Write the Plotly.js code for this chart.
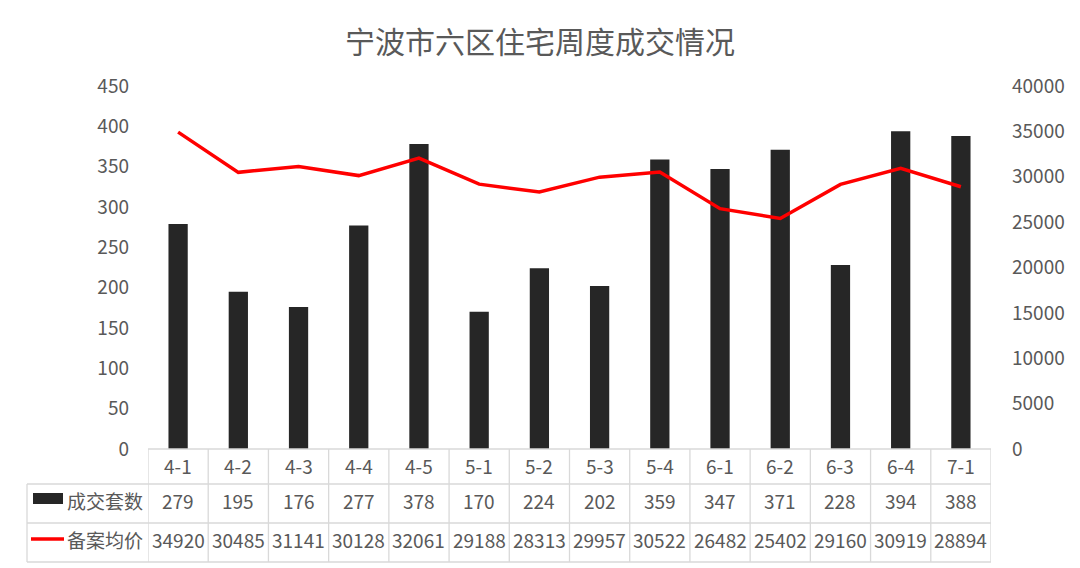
<!DOCTYPE html>
<html>
<head>
<meta charset="utf-8">
<script src="https://cdn.plot.ly/plotly-3.0.1.min.js"></script>
<style>
  html, body { margin: 0; padding: 0; background: #ffffff; }
  #plot { width: 1080px; height: 568px; }
</style>
</head>
<body>
<div id="plot"></div>
<script>
// chart data
//
const weeks = ['4-1', '4-2', '4-3', '4-4', '4-5', '5-1', '5-2', '5-3', '5-4',
               '6-1', '6-2', '6-3', '6-4', '7-1'];
const deals = [279, 195, 176, 277, 378, 170, 224, 202, 359, 347, 371, 228, 394, 388];
const avgPrice = [34920, 30485, 31141, 30128, 32061, 29188, 28313, 29957, 30522,
                  26482, 25402, 29160, 30919, 28894];
const dealsName = '成交套数';
const priceName = '备案均价';

const FONT = '"Noto Sans CJK SC", "Noto Sans", sans-serif';
const TXT = '#595959';
const GRID = '#d9d9d9';
const FS = 19;

// plot area geometry (pixels) used to place the table underneath
//
const M = { l: 148, r: 89, t: 86, b: 119 };
const plotH = 568 - M.t - M.b;
const plotW = 1080 - M.l - M.r;
const py = px => -px / plotH;          // pixels below plot bottom -> paper y
const leftX = (27 - M.l) / plotW;       // left edge of table legend column

const traces = [
  {
    type: 'bar',
    x: weeks,
    y: deals,
    name: dealsName,
    marker: { color: '#262626' },
    width: 0.32,
    hoverinfo: 'none'
  },
  {
    type: 'scatter',
    mode: 'lines',
    x: weeks,
    y: avgPrice,
    name: priceName,
    yaxis: 'y2',
    line: { color: '#ff0000', width: 3.5 },
    hoverinfo: 'none'
  }
];

// data table: text cells and grid lines
//
const annotations = [];
const shapes = [];
const rowShift = [-16, -51, -90];

weeks.forEach((w, i) => {
  annotations.push({ x: w, y: 0, xref: 'x', yref: 'paper', text: w, showarrow: false,
    yanchor: 'middle', yshift: rowShift[0], font: { family: FONT, size: FS, color: TXT } });
  annotations.push({ x: w, y: 0, xref: 'x', yref: 'paper', text: String(deals[i]), showarrow: false,
    yanchor: 'middle', yshift: rowShift[1], font: { family: FONT, size: FS, color: TXT } });
  annotations.push({ x: w, y: 0, xref: 'x', yref: 'paper', text: String(avgPrice[i]), showarrow: false,
    yanchor: 'middle', yshift: rowShift[2], font: { family: FONT, size: FS, color: TXT } });
});

for (let i = 0; i <= weeks.length; i++) {
  shapes.push({ type: 'line', xref: 'x', yref: 'paper', x0: i - 0.5, x1: i - 0.5,
    y0: 0, y1: py(113), line: { color: GRID, width: 1.3 } });
}
shapes.push({ type: 'line', xref: 'paper', yref: 'paper', x0: 0, x1: 1, y0: 0, y1: 0,
  line: { color: GRID, width: 1.3 } });
[35, 74, 113].forEach(p => {
  shapes.push({ type: 'line', xref: 'paper', yref: 'paper', x0: leftX, x1: 1,
    y0: py(p), y1: py(p), line: { color: GRID, width: 1.3 } });
});
shapes.push({ type: 'line', xref: 'paper', yref: 'paper', x0: leftX, x1: leftX,
  y0: py(35), y1: py(113), line: { color: GRID, width: 1.3 } });

// legend keys inside the table
//
shapes.push({ type: 'rect', xref: 'paper', yref: 'paper',
  x0: (33 - M.l) / plotW, x1: (63 - M.l) / plotW, y0: py(44), y1: py(55),
  fillcolor: '#262626', line: { width: 0 } });
shapes.push({ type: 'line', xref: 'paper', yref: 'paper',
  x0: (31 - M.l) / plotW, x1: (64 - M.l) / plotW, y0: py(90), y1: py(90),
  line: { color: '#ff0000', width: 3.5 } });
annotations.push({ x: (65 - M.l) / plotW, y: 0, xref: 'paper', yref: 'paper', text: dealsName,
  showarrow: false, xanchor: 'left', yanchor: 'middle', yshift: rowShift[1],
  font: { family: FONT, size: FS, color: TXT } });
annotations.push({ x: (65 - M.l) / plotW, y: 0, xref: 'paper', yref: 'paper', text: priceName,
  showarrow: false, xanchor: 'left', yanchor: 'middle', yshift: rowShift[2],
  font: { family: FONT, size: FS, color: TXT } });

const layout = {
  width: 1080,
  height: 568,
  paper_bgcolor: '#ffffff',
  plot_bgcolor: '#ffffff',
  margin: M,
  showlegend: false,
  bargap: 0.68,
  title: {
    text: '宁波市六区住宅周度成交情况',
    x: 0.5, xref: 'container', xanchor: 'center', y: 0.925, yanchor: 'middle',
    font: { family: FONT, size: 30, color: TXT }
  },
  xaxis: {
    type: 'category',
    range: [-0.5, weeks.length - 0.5],
    showticklabels: false,
    showgrid: false,
    zeroline: false,
    showline: false,
    ticks: ''
  },
  yaxis: {
    range: [0, 450],
    dtick: 50,
    showgrid: false,
    zeroline: false,
    showline: false,
    ticks: '',
    ticklabelstandoff: 18,
    tickfont: { family: FONT, size: FS, color: TXT }
  },
  yaxis2: {
    overlaying: 'y',
    side: 'right',
    range: [0, 40000],
    dtick: 5000,
    tickformat: 'd',
    showgrid: false,
    zeroline: false,
    showline: false,
    ticks: '',
    ticklabelstandoff: 20,
    tickfont: { family: FONT, size: FS, color: TXT }
  },
  annotations: annotations,
  shapes: shapes
};

Plotly.newPlot('plot', traces, layout, { displayModeBar: false, staticPlot: true });
</script>
</body>
</html>
